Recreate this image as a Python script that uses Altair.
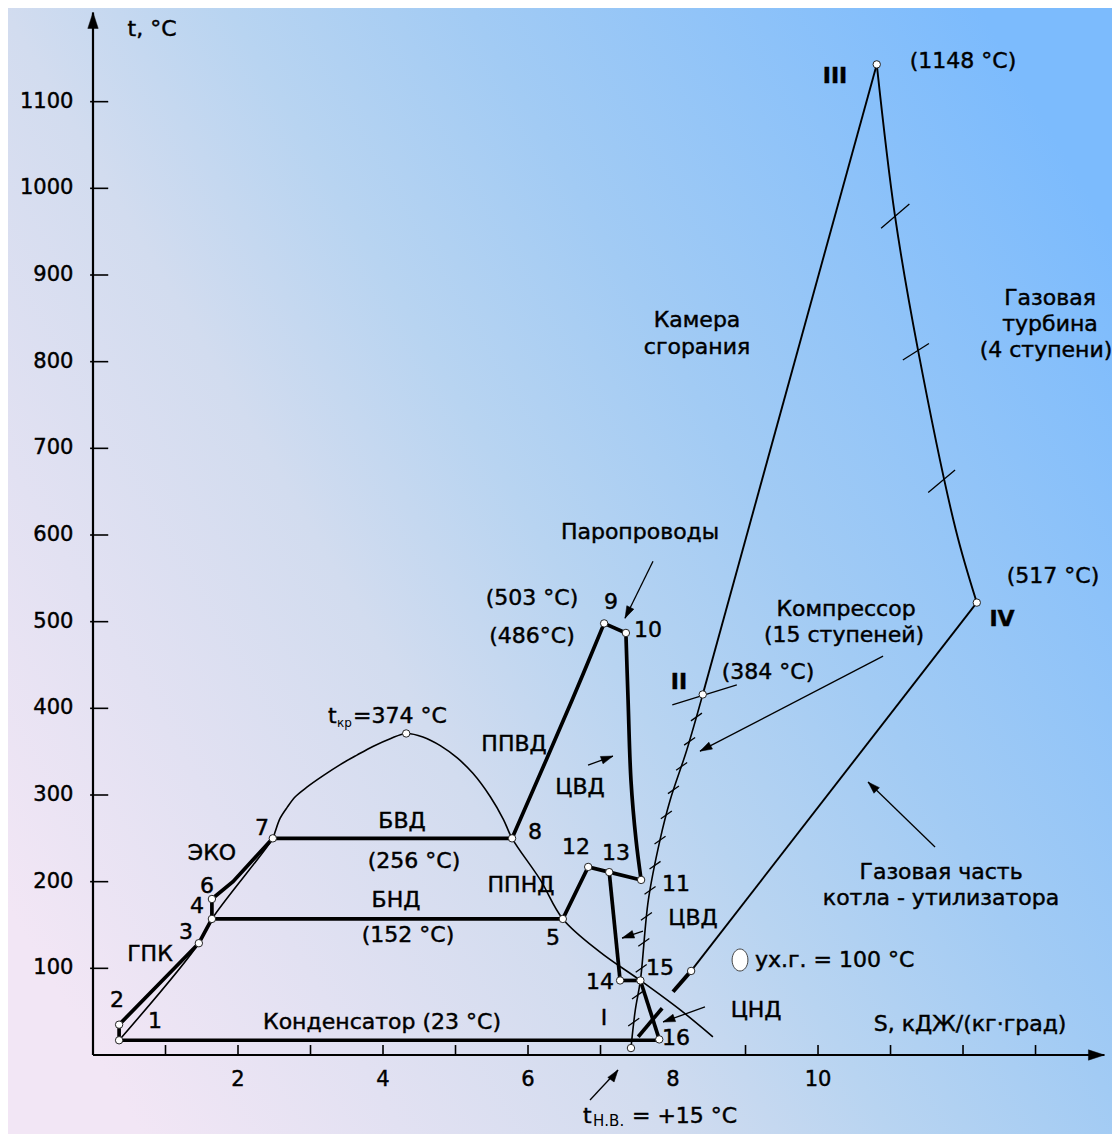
import altair as alt
import pandas as pd

FONT = "DejaVu Sans"

# ---------------- axes ----------------
X_TICKS = [1, 2, 3, 4, 5, 6, 7, 9, 10, 11, 12, 13]
X_LABELS = [2, 4, 6, 8, 10]
Y_TICKS = [100, 200, 300, 400, 500, 600, 700, 800, 900, 1000, 1100]
X_MAX = 13.95
Y_MAX = 1203

# ---------------- thin curves ----------------
DOME_S = [0.36, 1.46, 1.64, 2.48, 2.51, 2.58, 2.68, 2.79, 2.95, 3.17, 3.41, 3.64, 3.86, 4.10, 4.32,
          4.55, 4.79, 5.02, 5.24, 5.48, 5.66, 5.78, 6.17, 6.48, 6.99, 7.55, 8.10, 8.55]
DOME_T = [17, 129, 157, 250, 257, 273, 286, 298, 309, 322, 335, 346, 356, 365, 371,
          367, 357, 343, 325, 298, 272, 250, 202, 157, 119, 86, 52, 21]
COMP_S = [7.42, 7.48, 7.55, 7.66, 7.82, 7.96, 8.19, 8.41]
COMP_T = [8, 52, 86, 179, 248, 294, 352, 416]
TURB_S = [10.81, 11.06, 11.38, 11.90, 12.19]
TURB_T = [1143, 969, 813, 606, 522]
COMB_S = [8.41, 10.81]
COMB_T = [416, 1143]
EXH_S = [12.19, 8.25]
EXH_T = [522, 97]
EXH_TAIL_S = [8.25, 8.00]
EXH_TAIL_T = [97, 73]

# ---------------- steam cycle (thick) ----------------
COND_S, COND_T = [0.36, 7.81], [17, 17]
P12_S, P12_T = [0.36, 0.36], [17, 35]
P234_S, P234_T = [0.36, 1.46, 1.64], [35, 129, 157]
P46_S, P46_T = [1.64, 1.64], [157, 180]
P67_S, P67_T = [1.64, 1.93, 2.48], [180, 200, 250]
BVD_S, BVD_T = [2.48, 5.78], [250, 250]
BND_S, BND_T = [1.64, 6.48], [157, 157]
P89_S, P89_T = [5.78, 6.61, 7.05], [250, 410, 498]
P910_S, P910_T = [7.05, 7.35], [498, 487]
P1011_S, P1011_T = [7.35, 7.38, 7.42, 7.49, 7.56], [487, 410, 317, 248, 202]
P1113_S, P1113_T = [7.56, 7.12], [202, 211]
P51213_S, P51213_T = [6.48, 6.83, 7.12], [157, 217, 211]
P1314_S, P1314_T = [7.12, 7.27], [211, 86]
P1415_S, P1415_T = [7.27, 7.55], [86, 86]
P1516_S, P1516_T = [7.55, 7.81], [86, 18]
XMARK_S, XMARK_T = [7.52, 7.85], [21, 54]

# ---------------- state points ----------------
PT_S = [0.36, 0.36, 1.46, 1.64, 1.64, 2.48, 4.32, 5.78, 6.48, 7.05, 7.35, 6.83, 7.12, 7.56, 7.27, 7.55, 7.81, 7.42, 8.41, 10.81, 12.19, 8.25]
PT_T = [17, 35, 129, 157, 180, 250, 371, 250, 157, 498, 487, 217, 211, 202, 86, 86, 18, 8, 416, 1143, 522, 97]

# compressor stage hatches (centres)
HATCH_S = [8.323, 8.229, 8.119, 8.006, 7.908, 7.821, 7.752, 7.683, 7.633, 7.597, 7.561, 7.510, 7.458]
HATCH_T = [390, 362, 333, 306, 277, 248, 219, 190, 160, 130, 100, 69, 38]

# crossing strokes (point II and turbine stages)
CROSS_S1 = [7.99, 10.87, 11.17, 11.52]
CROSS_T1 = [404, 954, 802, 649]
CROSS_S2 = [8.88, 11.26, 11.53, 11.89]
CROSS_T2 = [427, 982, 821, 675]

# annotation arrows: tail -> head, head angle
ARR_S1 = [7.724, 6.828, 10.897, 7.586, 8.441, 11.614, 6.855]
ARR_T1 = [569.8, 334.5, 460.2, 143.0, 55.4, 239.9, -51.9]
ARR_S2 = [7.338, 7.172, 8.372, 7.297, 7.862, 10.690, 7.241]
ARR_T2 = [504.0, 344.9, 350.6, 134.9, 38.1, 314.9, -17.3]
ARR_ANG = [206.2, 70.2, 242.6, 251.6, 250.3, 314.1, 36.0]

# ---------------- texts ----------------
TXT = ["t, °C", "(1148 °C)", "Газовая", "турбина", "(4 ступени)", "Камера", "сгорания",
       "Паропроводы", "(503 °C)", "9", "(486°C)", "10", "Компрессор", "(15 ступеней)",
       "(517 °C)", "(384 °C)", "ППВД", "ЦВД", "БВД", "7", "8", "ЭКО", "(256 °C)", "12", "13",
       "ППНД", "6", "11", "4", "БНД", "3", "(152 °C)", "5", "ЦВД", "ГПК", "15", "14", "2", "1",
       "Конденсатор (23 °C)", "I", "ЦНД", "S, кДЖ/(кг·град)", "16", "Газовая часть",
       "котла - утилизатора"]
TXT_S = [0.814, 12.0, 13.20, 13.20, 13.145, 8.331, 8.331,
         7.545, 6.055, 7.145, 6.055, 7.655, 10.386, 10.359,
         13.241, 9.310, 5.807, 6.717, 4.262, 2.331, 6.097, 1.641, 4.428, 6.662, 7.214,
         5.903, 1.572, 8.041, 1.434, 4.179, 1.283, 4.345, 6.345, 8.276, 0.786, 7.821, 6.993, 0.331, 0.855,
         3.986, 7.048, 9.145, 12.097, 8.041, 11.697, 11.697]
TXT_T = [1183.4, 1146.5, 873.1, 843.1, 813.1, 847.8, 816.6,
         603.2, 527.1, 522.5, 483.3, 490.2, 514.4, 484.4,
         552.5, 441.8, 358.7, 309.1, 269.9, 261.8, 257.2, 233.0, 223.8, 239.9, 233.0,
         196.1, 194.9, 197.2, 171.9, 178.8, 141.9, 138.4, 134.9, 158.0, 116.5, 100.3, 84.2, 63.4, 39.2,
         38.1, 42.7, 51.9, 35.8, 19.6, 211.1, 181.1]

BOLD_TXT = ["III", "II", "IV"]
BOLD_S = [10.234, 8.083, 12.538]
BOLD_T = [1129.2, 430.2, 502.9]

LEFT_TXT = ["ух.г. = 100 °C", "t", "=374 °C", "t", "= +15 °C"]
LEFT_S = [9.131, 3.241, 3.586, 6.759, 7.434]
LEFT_T = [109.6, 391.0, 391.0, -70.4, -70.4]

SUB_TXT = ["кр", "Н.В."]
SUB_S = [3.366, 6.897]
SUB_T = [382.9, -76.1]
SUB_SIZE = [12, 15]

# ---------------- build tables ----------------
def seg(name, S, T, w):
    return pd.DataFrame({"seg": name, "i": list(range(len(S))), "s": S, "t": T, "w": w})

smooth_df = pd.concat([
    seg("dome", DOME_S, DOME_T, 1.6),
    seg("comp", COMP_S, COMP_T, 1.6),
    seg("turb", TURB_S, TURB_T, 1.9),
    seg("p89", P89_S, P89_T, 3.7),
    seg("p1011", P1011_S, P1011_T, 3.7),
])
linear_df = pd.concat([
    seg("comb", COMB_S, COMB_T, 1.9),
    seg("exh", EXH_S, EXH_T, 1.9),
    seg("tail", EXH_TAIL_S, EXH_TAIL_T, 4.0),
    seg("cond", COND_S, COND_T, 3.7),
    seg("p12", P12_S, P12_T, 3.7),
    seg("p234", P234_S, P234_T, 3.7),
    seg("p46", P46_S, P46_T, 3.7),
    seg("p67", P67_S, P67_T, 3.7),
    seg("bvd", BVD_S, BVD_T, 3.7),
    seg("bnd", BND_S, BND_T, 3.7),
    seg("p910", P910_S, P910_T, 3.7),
    seg("p1113", P1113_S, P1113_T, 3.7),
    seg("p51213", P51213_S, P51213_T, 3.7),
    seg("p1314", P1314_S, P1314_T, 3.7),
    seg("p1415", P1415_S, P1415_T, 3.7),
    seg("p1516", P1516_S, P1516_T, 3.7),
    seg("xmark", XMARK_S, XMARK_T, 3.7),
])

# ticks (inward) and axis lines
ticks_df = pd.DataFrame({
    "s": X_TICKS + [-0.04] * len(Y_TICKS),
    "s2": X_TICKS + [0.21] * len(Y_TICKS),
    "t": [0] * len(X_TICKS) + Y_TICKS,
    "t2": [11.5] * len(X_TICKS) + Y_TICKS,
})
axis_df = pd.DataFrame({"s": [0, 0], "s2": [X_MAX, 0], "t": [0, 0], "t2": [0, Y_MAX]})

xs = alt.Scale(domain=[0, 13.903], nice=False, zero=False)
ys = alt.Scale(domain=[0, 1200], nice=False, zero=False)


def X(f="s"):
    return alt.X(f, type="quantitative", scale=xs, axis=None)


def Y(f="t"):
    return alt.Y(f, type="quantitative", scale=ys, axis=None)


# background gradient
bg = alt.Chart(pd.DataFrame({"a": [0]})).mark_rect(
    fill=alt.LinearGradient(
        gradient="linear",
        stops=[
            alt.GradientStop(color="#f2e6f5", offset=0),
            alt.GradientStop(color="#d2dcef", offset=0.35),
            alt.GradientStop(color="#b8d4f1", offset=0.5),
            alt.GradientStop(color="#a2cbf4", offset=0.66),
            alt.GradientStop(color="#7cbbfd", offset=1),
        ],
        x1=0, y1=0.8, x2=1, y2=0.2,
    )
).encode(x=alt.value(-85), x2=alt.value(1019), y=alt.value(-7), y2=alt.value(1119))

ticks = alt.Chart(ticks_df).mark_rule(color="black", strokeWidth=1.6).encode(
    x=X(), x2="s2:Q", y=Y(), y2="t2:Q")
axis_lines = alt.Chart(axis_df).mark_rule(color="black", strokeWidth=2.2).encode(
    x=X(), x2="s2:Q", y=Y(), y2="t2:Q")

TEXT_STYLE = dict(font=FONT, color="black", stroke="black", strokeWidth=0.45, baseline="middle")

xlab = alt.Chart(pd.DataFrame({"s": X_LABELS, "t": [-28.8] * len(X_LABELS),
                               "txt": [str(v) for v in X_LABELS]})).mark_text(
    fontSize=21, align="center", **TEXT_STYLE
).encode(x=X(), y=Y(), text="txt:N")
ylab = alt.Chart(pd.DataFrame({"s": [-0.27] * len(Y_TICKS), "t": Y_TICKS,
                               "txt": [str(v) for v in Y_TICKS]})).mark_text(
    fontSize=21, align="right", **TEXT_STYLE
).encode(x=X(), y=Y(), text="txt:N")

axis_heads = alt.Chart(pd.DataFrame({"s": [0, X_MAX], "t": [Y_MAX, 0], "a": [0, 90]})).mark_point(
    shape="M0,0L0.65,2L-0.65,2Z", filled=True, fill="black", stroke="black", strokeWidth=0.5,
    size=256, opacity=1
).encode(x=X(), y=Y(), angle=alt.Angle("a:Q", scale=None))

smooth = alt.Chart(smooth_df).mark_line(color="black", interpolate="catmull-rom").encode(
    x=X(), y=Y(), detail="seg:N", order="i:Q", strokeWidth=alt.StrokeWidth("w:Q", scale=None))
linear = alt.Chart(linear_df).mark_line(color="black").encode(
    x=X(), y=Y(), detail="seg:N", order="i:Q", strokeWidth=alt.StrokeWidth("w:Q", scale=None))

hatches = alt.Chart(pd.DataFrame({"s": HATCH_S, "t": HATCH_T})).mark_point(
    shape="M-1,0.7L1,-0.7", filled=False, stroke="black", strokeWidth=1.3, size=121, opacity=1
).encode(x=X(), y=Y())

cross = alt.Chart(pd.DataFrame({"s": CROSS_S1, "t": CROSS_T1, "s2": CROSS_S2, "t2": CROSS_T2})).mark_rule(
    color="black", strokeWidth=1.3).encode(x=X(), y=Y(), x2="s2:Q", y2="t2:Q")

arr_df = pd.DataFrame({"s": ARR_S1, "t": ARR_T1, "s2": ARR_S2, "t2": ARR_T2, "a": ARR_ANG})
arr_lines = alt.Chart(arr_df).mark_rule(color="black", strokeWidth=1.3).encode(
    x=X(), y=Y(), x2="s2:Q", y2="t2:Q")
arr_heads = alt.Chart(arr_df).mark_point(
    shape="M0,0L0.65,2L-0.65,2Z", filled=True, fill="black", stroke="black", strokeWidth=0.5,
    size=144, opacity=1
).encode(x=X("s2"), y=Y("t2"), angle=alt.Angle("a:Q", scale=None))

points = alt.Chart(pd.DataFrame({"s": PT_S, "t": PT_T})).mark_point(
    shape="circle", filled=True, fill="white", stroke="#222222", strokeWidth=1, size=55, opacity=1
).encode(x=X(), y=Y())

ellipse = alt.Chart(pd.DataFrame({"s": [8.924], "t": [109.6]})).mark_point(
    shape="M0,-1A0.72,1 0 1 1 0,1A0.72,1 0 1 1 0,-1Z", filled=True, fill="white",
    stroke="#444444", strokeWidth=1, size=484, opacity=1
).encode(x=X(), y=Y())

texts = alt.Chart(pd.DataFrame({"s": TXT_S, "t": TXT_T, "txt": TXT})).mark_text(
    fontSize=22, align="center", **TEXT_STYLE
).encode(x=X(), y=Y(), text="txt:N")

bold = alt.Chart(pd.DataFrame({"s": BOLD_S, "t": BOLD_T, "txt": BOLD_TXT})).mark_text(
    fontSize=22, fontWeight="bold", align="center", **TEXT_STYLE
).encode(x=X(), y=Y(), text="txt:N")

left = alt.Chart(pd.DataFrame({"s": LEFT_S, "t": LEFT_T, "txt": LEFT_TXT})).mark_text(
    fontSize=22, align="left", **TEXT_STYLE
).encode(x=X(), y=Y(), text="txt:N")

subs = alt.Chart(pd.DataFrame({"s": SUB_S, "t": SUB_T, "txt": SUB_TXT, "fs": SUB_SIZE})).mark_text(
    align="left", font=FONT, color="black", baseline="middle"
).encode(x=X(), y=Y(), text="txt:N", size=alt.Size("fs:Q", scale=None))

chart = alt.layer(
    bg, ticks, axis_lines, axis_heads, xlab, ylab, smooth, linear, hatches, cross,
    arr_lines, arr_heads, points, ellipse, texts, bold, left, subs
).properties(
    width=1008, height=1040,
    autosize=alt.AutoSizeParams(type="none"),
    padding={"left": 85, "top": 7, "right": 11, "bottom": 79},
).configure_view(stroke=None).configure(background="#c8dbf0")

chart.save("out.html", embed_options={"renderer": "svg", "actions": False})
